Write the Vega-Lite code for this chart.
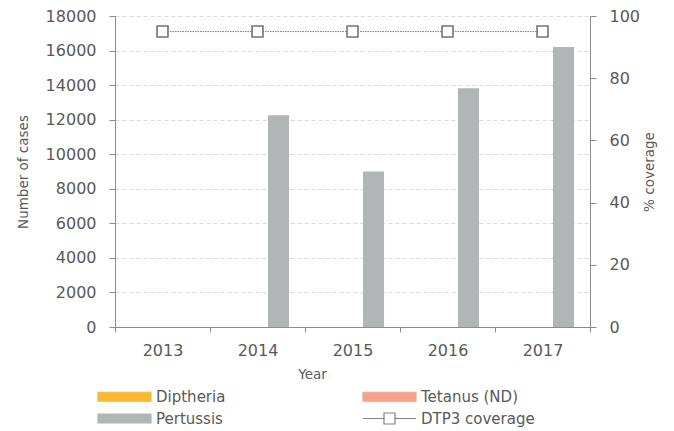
{
  "$schema": "https://vega.github.io/schema/vega-lite/v6.json",
  "autosize": {"type": "none"},
  "width": 475,
  "height": 311,
  "padding": {"left": 115, "top": 16, "right": 84, "bottom": 104},
  "background": "white",
  "config": {
    "font": "DejaVu Sans",
    "view": {"stroke": null},
    "axis": {
      "labelColor": "#595959",
      "titleColor": "#595959",
      "labelFont": "DejaVu Sans",
      "titleFont": "DejaVu Sans",
      "titleFontWeight": "normal",
      "domainColor": "#8c8c8c",
      "tickColor": "#8c8c8c",
      "labelFontSize": 15,
      "titleFontSize": 13.5
    },
    "legend": {
      "labelFont": "DejaVu Sans",
      "labelColor": "#595959",
      "labelFontSize": 15
    }
  },
  "datasets": {
    "cases": [
      {"year": "2013", "series": "Diptheria", "cases": 0},
      {"year": "2013", "series": "Tetanus (ND)", "cases": 0},
      {"year": "2013", "series": "Pertussis", "cases": 0},
      {"year": "2014", "series": "Diptheria", "cases": 0},
      {"year": "2014", "series": "Tetanus (ND)", "cases": 0},
      {"year": "2014", "series": "Pertussis", "cases": 12250},
      {"year": "2015", "series": "Diptheria", "cases": 0},
      {"year": "2015", "series": "Tetanus (ND)", "cases": 0},
      {"year": "2015", "series": "Pertussis", "cases": 9000},
      {"year": "2016", "series": "Diptheria", "cases": 0},
      {"year": "2016", "series": "Tetanus (ND)", "cases": 0},
      {"year": "2016", "series": "Pertussis", "cases": 13820},
      {"year": "2017", "series": "Diptheria", "cases": 0},
      {"year": "2017", "series": "Tetanus (ND)", "cases": 0},
      {"year": "2017", "series": "Pertussis", "cases": 16200}
    ],
    "coverage": [
      {"year": "2013", "coverage": 95},
      {"year": "2014", "coverage": 95},
      {"year": "2015", "coverage": 95},
      {"year": "2016", "coverage": 95},
      {"year": "2017", "coverage": 95}
    ]
  },
  "encoding": {
    "x": {
      "field": "year",
      "type": "nominal",
      "scale": {"paddingInner": 0, "paddingOuter": 0},
      "axis": {
        "title": "Year",
        "titleFontSize": 13.5,
        "labelAngle": 0,
        "labelFontSize": 16,
        "tickBand": "extent",
        "tickSize": 5,
        "labelPadding": 10,
        "titlePadding": 9,
        "titleX": 197,
        "titleAnchor": "start",
        "titleAlign": "center"
      }
    }
  },
  "layer": [
    {
      "data": {"name": "cases"},
      "mark": {"type": "bar"},
      "encoding": {
        "xOffset": {
          "field": "series",
          "type": "nominal",
          "sort": ["Diptheria", "Tetanus (ND)", "Pertussis"],
          "scale": {"domain": ["Diptheria", "Tetanus (ND)", "Pertussis"], "paddingInner": 0, "paddingOuter": 0.76}
        },
        "y": {
          "field": "cases",
          "type": "quantitative",
          "scale": {"domain": [0, 18000], "nice": false},
          "axis": {
            "title": "Number of cases",
            "format": "d",
            "values": [0, 2000, 4000, 6000, 8000, 10000, 12000, 14000, 16000, 18000],
            "labelFontSize": 16,
            "tickSize": 6,
            "labelPadding": 13,
            "titlePadding": 15,
            "grid": true,
            "gridColor": "#d9d9d9",
            "gridDash": [4, 3]
          }
        },
        "color": {
          "field": "series",
          "type": "nominal",
          "scale": {
            "domain": ["Diptheria", "Pertussis", "Tetanus (ND)", "DTP3 coverage"],
            "range": ["#fbb832", "#b2b5b5", "#f7a18b", "#7f7f7f"]
          },
          "legend": {
            "title": null,
            "orient": "none",
            "legendX": 2,
            "legendY": 373,
            "columns": 2,
            "columnPadding": 134,
            "rowPadding": 5,
            "padding": 0,
            "symbolSize": 100,
            "symbolStrokeWidth": 1,
            "labelOffset": 24,
            "encode": {
              "symbols": {
                "update": {
                  "shape": {"signal": "datum.value === 'DTP3 coverage' ? 'M-5.3,0H-1.1M1.1,0H5.3M-1.1,-1.1H1.1V1.1H-1.1Z' : 'M-5.3,-0.9H5.3V0.9H-5.3Z'"},
                  "fill": {"signal": "datum.value === 'Diptheria' ? '#fbb832' : datum.value === 'Tetanus (ND)' ? '#f7a18b' : datum.value === 'Pertussis' ? '#b2b5b5' : '#ffffff'"},
                  "fillOpacity": {"signal": "datum.value === 'DTP3 coverage' ? 0 : 1"},
                  "stroke": {"signal": "datum.value === 'DTP3 coverage' ? '#7f7f7f' : 'transparent'"},
                  "strokeWidth": {"value": 1.2},
                  "opacity": {"value": 1}
                }
              }
            }
          }
        }
      }
    },
    {
      "data": {"name": "coverage"},
      "mark": {"type": "line", "strokeWidth": 1, "strokeDash": [1.5, 1]},
      "encoding": {
        "y": {
          "field": "coverage",
          "type": "quantitative",
          "scale": {"domain": [0, 100], "nice": false},
          "axis": {
            "orient": "right",
            "title": "% coverage",
            "titleAngle": 270,
            "values": [0, 20, 40, 60, 80, 100],
            "labelFontSize": 16,
            "tickSize": 6,
            "labelPadding": 13,
            "titlePadding": 17,
            "grid": false
          }
        },
        "color": {"datum": "DTP3 coverage"}
      }
    },
    {
      "data": {"name": "coverage"},
      "mark": {"type": "point", "shape": "square", "size": 120, "filled": true, "fill": "#ffffff", "stroke": "#737373", "strokeWidth": 1.6, "opacity": 1},
      "encoding": {
        "y": {"field": "coverage", "type": "quantitative", "scale": {"domain": [0, 100], "nice": false}, "axis": null}
      }
    }
  ],
  "resolve": {"scale": {"y": "independent"}}
}
